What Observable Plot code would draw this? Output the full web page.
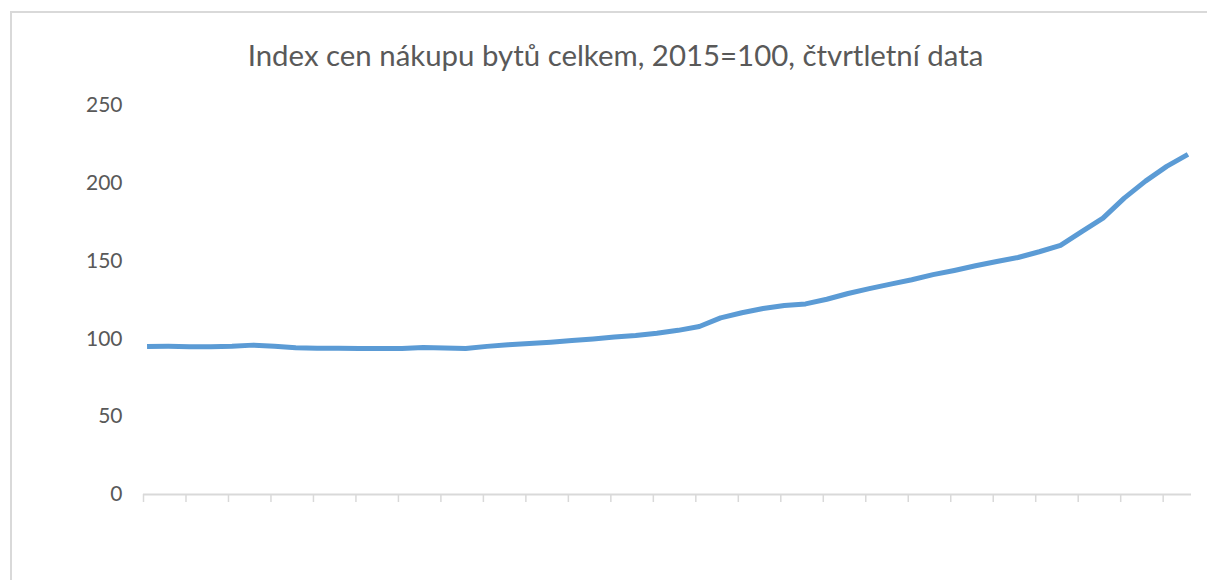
<!DOCTYPE html>
<html><head><meta charset="utf-8">
<script src="https://cdn.jsdelivr.net/npm/d3@7"></script>
<script src="https://cdn.jsdelivr.net/npm/@observablehq/plot@0.6"></script>
<style>
html,body{margin:0;padding:0;background:#fff;overflow:hidden;}
#wrap{position:relative;width:1207px;height:580px;overflow:hidden;background:#fff;font-family:Lato,sans-serif;}
#lineTop{position:absolute;left:10px;top:11px;width:1197px;height:2px;background:#d9d9d9;}
#lineLeft{position:absolute;left:10px;top:11px;width:2px;height:569px;background:#d9d9d9;}
#title{position:absolute;left:0;top:41px;width:1183px;padding-left:24px;text-align:center;font-family:Lato,sans-serif;font-weight:400;font-size:29.4px;line-height:28px;color:#595959;white-space:nowrap;}
#chart{position:absolute;left:0;top:85px;}
</style>
</head><body>
<div id="wrap">
  <div id="lineTop"></div>
  <div id="lineLeft"></div>
  <div id="title">Index cen nákupu bytů celkem, 2015=100, čtvrtletní data</div>
  <div id="chart"></div>
</div>
<script>
const quarters = [
  "2010Q1","2010Q2","2010Q3","2010Q4","2011Q1","2011Q2","2011Q3","2011Q4",
  "2012Q1","2012Q2","2012Q3","2012Q4","2013Q1","2013Q2","2013Q3","2013Q4",
  "2014Q1","2014Q2","2014Q3","2014Q4","2015Q1","2015Q2","2015Q3","2015Q4",
  "2016Q1","2016Q2","2016Q3","2016Q4","2017Q1","2017Q2","2017Q3","2017Q4",
  "2018Q1","2018Q2","2018Q3","2018Q4","2019Q1","2019Q2","2019Q3","2019Q4",
  "2020Q1","2020Q2","2020Q3","2020Q4","2021Q1","2021Q2","2021Q3","2021Q4",
  "2022Q1","2022Q2"
];
const values = [
  95.1, 95.2, 95.0, 95.0, 95.2, 96.0, 95.3, 94.3, 94.0, 94.0,
  93.9, 93.8, 93.8, 94.4, 94.1, 93.8, 95.2, 96.2, 97.0, 97.9,
  99.0, 100.0, 101.2, 102.2, 103.6, 105.5, 108.0, 113.5, 116.8, 119.5,
  121.5, 122.5, 125.5, 129.2, 132.3, 135.2, 138.0, 141.3, 144.0, 147.0,
  149.7, 152.3, 156.0, 160.1, 169.0, 177.6, 190.5, 201.4, 210.9, 218.6
];
const yTicks = [0, 50, 100, 150, 200, 250];
const startYear = 2010;
const monthsOnAxis = 148;   // Excel date axis, base unit = month
const tickEveryMonths = 6;

// month index (centre of month slot) for each quarter label
const monthOf = q => (+q.slice(0, 4) - startYear) * 12 + (+q.slice(5) - 1) * 3 + 0.5;
const data = quarters.map((q, i) => ({q, m: monthOf(q), v: values[i]}));
const xTicks = d3.range(0, monthsOnAxis, tickEveryMonths);

const chart = Plot.plot({
  width: 1207,
  height: 495,
  marginLeft: 143,
  marginRight: 16,
  marginTop: 20,
  marginBottom: 86,
  style: {fontFamily: "Lato, sans-serif", fontSize: "21px", background: "transparent", color: "#595959"},
  x: {type: "linear", domain: [0, monthsOnAxis]},
  y: {domain: [0, 250]},
  marks: [
    Plot.ruleY([0], {stroke: "#d9d9d9", strokeWidth: 2}),
    Plot.axisX({ticks: xTicks, tickSize: 8, tickFormat: () => "", label: null, stroke: "#d9d9d9", strokeWidth: 1.5, strokeOpacity: 1}),
    Plot.axisY({ticks: yTicks, tickSize: 0, tickPadding: 21, fill: "#595959", fontSize: 21, label: null}),
    Plot.line(data, {x: "m", y: "v", stroke: "#5b9bd5", strokeWidth: 5, strokeLinejoin: "round", strokeLinecap: "butt"})
  ]
});
document.getElementById("chart").appendChild(chart);
</script>
</body></html>
